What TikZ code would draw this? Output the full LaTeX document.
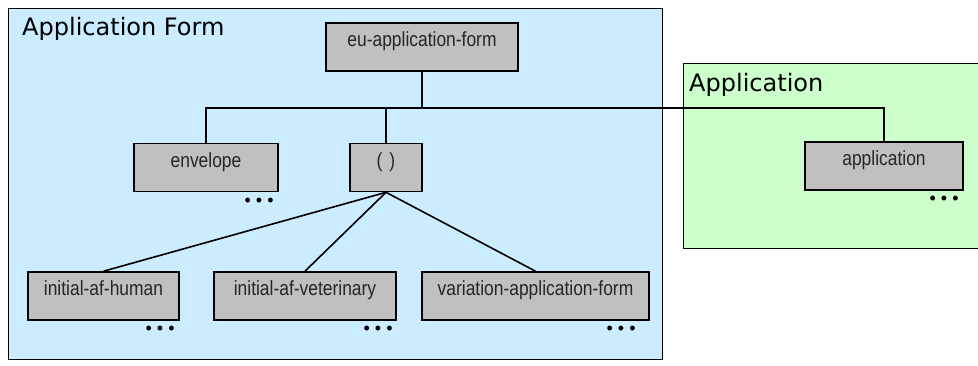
\documentclass[tikz,border=0pt]{standalone}
\usepackage{fontspec}
\setmainfont{Liberation Sans}
\newfontfamily\labelfont[FakeStretch = 0.85]{Liberation Sans}
\newfontfamily\headfont{DejaVu Sans}
\usetikzlibrary{positioning, calc}
\definecolor{formblue}{RGB}{204,236,255}
\definecolor{appgreen}{RGB}{204,255,204}
\definecolor{boxgray}{RGB}{192,192,192}
\tikzset{
  container/.style = {draw, line width = 1.2pt, inner sep = 0pt, anchor = north west},
  heading/.style = {font = \headfont\fontsize{24}{26}\selectfont, inner sep = 0pt, 
    anchor = base west},
  element/.style = {draw, fill = boxgray, line width = 1.6pt, inner sep = 0pt,
    minimum height = 48pt, text height = 24pt, text depth = 24pt,
    font = \labelfont\fontsize{20.5}{22}\selectfont, text = black!85},
  more/.style = {font = \fontsize{18}{18}\selectfont, inner sep = 0pt, 
    anchor = base east},
  link/.style = {line width = 1.6pt}
}

\begin{document}
\begin{tikzpicture}[x = 1pt, y = -1pt]

\useasboundingbox (0,0) rectangle (978,366);

\node [container, fill = formblue, minimum width = 654pt, minimum height = 351pt] 
  (formbox) at (8,8) {};
\node [container, fill = appgreen, minimum width = 310pt, minimum height = 185pt] 
  (appbox) at (683,63) {};
\node [heading] (formtitle) at ([xshift = 14pt, yshift = -28pt] formbox.north west) {Application Form};
\node [heading] (apptitle) at ([xshift = 6pt, yshift = -29pt] appbox.north west) {Application};

\node [element, minimum width = 192pt] (euform) at (422,47) {eu-application-form};
\node [element, minimum width = 144pt] (envelope) at (206,167.5) {envelope};
\node [element, minimum width = 72pt] (choice) at (386,167.5) {(\hspace{7pt})};
\node [element, minimum width = 158pt] (application) at (884,166) {application};
\node [element, minimum width = 151pt] (human) at (103.5,296) {initial-af-human};
\node [element, minimum width = 182pt] (veterinary) at (305,296) {initial-af-veterinary};
\node [element, minimum width = 227pt] (variation) at (535.5,296) {variation-application-form};

\node [more] (envelope-more) at ([xshift = -5pt, yshift = -14pt] envelope.south east) {• • •};
\node [more] (application-more) at ([xshift = -5pt, yshift = -14pt] application.south east) {• • •};
\node [more] (human-more) at ([xshift = -5pt, yshift = -14pt] human.south east) {• • •};
\node [more] (veterinary-more) at ([xshift = -4pt, yshift = -14pt] veterinary.south east) {• • •};
\node [more] (variation-more) at ([xshift = -14pt, yshift = -14pt] variation.south east) {• • •};

\coordinate (bus) at ($(euform.south) + (0,36)$);
\draw [link] (euform.south) -- (bus) -| (envelope.north);
\draw [link] (bus) -| (application.north);
\draw [link] (choice.north) |- (bus);

\draw [link] (choice.south) -- (human.north);
\draw [link] (choice.south) -- (veterinary.north);
\draw [link] (choice.south) -- (variation.north);

\end{tikzpicture}
\end{document}
